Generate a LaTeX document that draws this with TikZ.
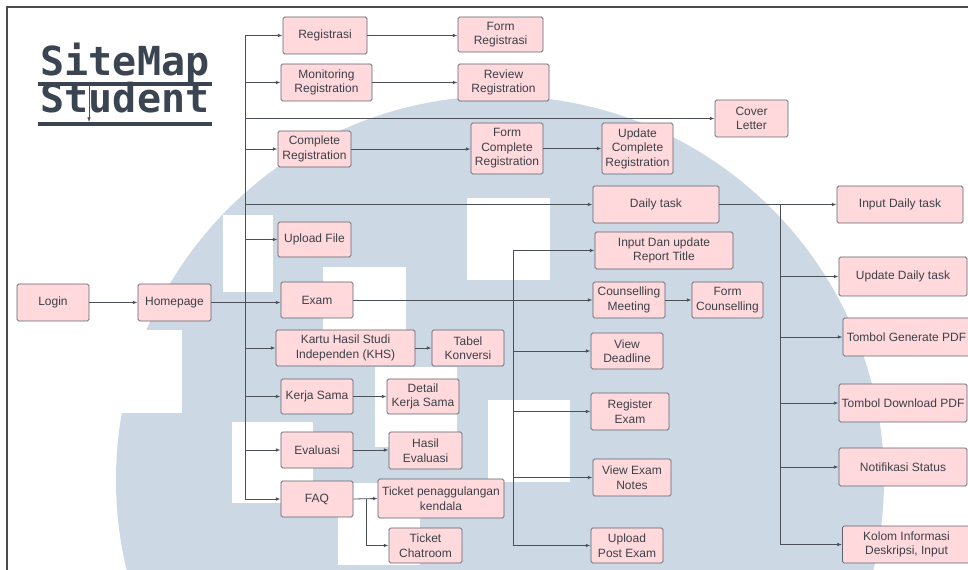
\documentclass[tikz,border=0pt]{standalone}
\usepackage{fontspec}
\setmainfont{Liberation Sans}
\newfontfamily\titelfont{DejaVu Sans Mono}
\usetikzlibrary{arrows.meta}

\definecolor{rosa}{RGB}{255,217,220}
\definecolor{rand}{RGB}{94,99,107}
\definecolor{schrift}{RGB}{60,64,72}
\definecolor{linie}{RGB}{75,80,88}
\definecolor{logo}{RGB}{204,216,227}
\definecolor{titel}{RGB}{59,68,81}

\begin{document}
\begin{tikzpicture}[x=0.75pt,y=-0.75pt,
    kasten/.style 2 args={draw=rand,fill=rosa,rounded corners=1.2pt,line width=0.6pt,
      minimum width=#1*0.75pt,minimum height=#2*0.75pt,inner sep=1pt,align=center,
      text=schrift,font=\fontsize{9}{10.9}\selectfont},
    pfeil/.style={draw=linie,line width=0.6pt,-{Latex[length=3.5pt,width=2.6pt]}},
    ast/.style={draw=linie,line width=0.6pt},
    kopf/.style={font=\titelfont\bfseries\fontsize{30}{30}\selectfont,text=titel,anchor=base,inner sep=0pt}]

  \clip (0,0) rectangle (968,570);

  %Logo im Hintergrund
  \fill[logo] (500,480) circle[radius=288pt];
  \foreach \x/\y/\w/\h in {223/215/50/77,323/267/83/83,375/367/82/80,467/198/83/82,488/400/82/82,232/422/81/81,338/483/82/82,100/330/82/83}
    \fill[white] (\x,\y) rectangle ++(\w,\h);

  %Rahmen
  \draw[gray!60!black,line width=1.5pt] (968,7) -- (7,7) -- (7,570);

  %Titel
  \node[kopf] (sitemap) at (125,76) {SiteMap};
  \node[kopf] (student) at (125,113) {Student};
  \draw[titel,line width=3pt] (38,84) -- (212,84);
  \draw[titel,line width=3pt] (38,124) -- (212,124);
  \coordinate (u1) at (89,86);
  \coordinate (u2) at (89,122);
  \draw[pfeil,line width=0.4pt] (u1) -- (u2);

  %Kaesten
  \node[kasten={72}{37}] (login) at (53,302.5) {Login};
  \node[kasten={73}{37}] (home) at (174.5,302.5) {Homepage};

  \node[kasten={84}{37}] (reg) at (325,35.5) {Registrasi};
  \node[kasten={85}{35}] (formreg) at (500.5,34.5) {Form\\Registrasi};
  \node[kasten={91}{37}] (moni) at (326.5,82.5) {Monitoring\\Registration};
  \node[kasten={91}{37}] (review) at (503.5,82.5) {Review\\Registration};
  \node[kasten={73}{37}] (cover) at (751.5,118.5) {Cover\\Letter};
  \node[kasten={73}{36}] (complete) at (314.5,149) {Complete\\Registration};
  \node[kasten={72}{51}] (formcomp) at (507,148.5) {Form\\Complete\\Registration};
  \node[kasten={71}{51}] (updcomp) at (637.5,148.5) {Update\\Complete\\Registration};

  \node[kasten={126}{37}] (daily) at (656,204.5) {Daily task};
  \node[kasten={126}{37}] (inputdaily) at (900,204.5) {Input Daily task};
  \node[kasten={128}{39}] (upddaily) at (903,276.5) {Update Daily task};
  \node[kasten={127}{38}] (generate) at (906.5,337) {Tombol Generate PDF};
  \node[kasten={128}{38}] (download) at (903,403) {Tombol Download PDF};
  \node[kasten={128}{38}] (notif) at (903,467) {Notifikasi Status};
  \node[kasten={128}{37}] (kolom) at (906.5,544.5) {Kolom Informasi\\Deskripsi, Input};

  \node[kasten={73}{35}] (upload) at (314.5,239.5) {Upload File};
  \node[kasten={72}{36}] (exam) at (317,300) {Exam};
  \node[kasten={138}{37}] (report) at (664,250.5) {Input Dan update\\Report Title};
  \node[kasten={72}{36}] (counsel) at (629,300) {Counselling\\Meeting};
  \node[kasten={71}{36}] (formcounsel) at (727.5,300) {Form\\Counselling};
  \node[kasten={72}{36}] (deadline) at (627,351) {View\\Deadline};
  \node[kasten={78}{37}] (regexam) at (630,411.5) {Register\\Exam};
  \node[kasten={78}{37}] (notes) at (632,477.5) {View Exam\\Notes};
  \node[kasten={72}{35}] (postexam) at (627,545.5) {Upload\\Post Exam};

  \node[kasten={139}{36}] (khs) at (345.5,348) {Kartu Hasil Studi\\Independen (KHS)};
  \node[kasten={72}{36}] (tabel) at (468,348) {Tabel\\Konversi};
  \node[kasten={72}{35}] (kerja) at (317,396.5) {Kerja Sama};
  \node[kasten={72}{35}] (detail) at (423,396.5) {Detail\\Kerja Sama};
  \node[kasten={72}{36}] (eval) at (317,450) {Evaluasi};
  \node[kasten={73}{37}] (hasil) at (425.5,450.5) {Hasil\\Evaluasi};
  \node[kasten={72}{36}] (faq) at (317,499) {FAQ};
  \node[kasten={126}{39}] (ticket) at (441,498.5) {Ticket penaggulangan\\kendala};
  \node[kasten={73}{35}] (chat) at (425.5,545.5) {Ticket\\Chatroom};

  %Verbindungen
  \foreach \a/\b in {login/home,reg/formreg,moni/review,complete/formcomp,formcomp/updcomp,khs/tabel,kerja/detail,eval/hasil,counsel/formcounsel}
    \draw[pfeil] (\a.east) -- (\a.east -| \b.west);

  \coordinate (t1) at (245,302);  %Hauptast
  \draw[ast] (t1 |- reg.west) -- (t1 |- faq.west);
  \draw[pfeil] (home.east) -- (home.east -| exam.west);
  \foreach \k in {reg,moni,cover,complete,daily,upload,khs,kerja,eval,faq}
    \draw[pfeil] (t1 |- \k.west) -- (\k.west);

  \coordinate (t2) at (513,300);  %Exam
  \draw[pfeil] (exam.east) -- (counsel.west);
  \draw[ast] (t2 |- report.west) -- (t2 |- postexam.west);
  \foreach \k in {report,deadline,regexam,notes,postexam}
    \draw[pfeil] (t2 |- \k.west) -- (\k.west);

  \coordinate (t3) at (780,204.5);  %Daily task
  \draw[pfeil] (daily.east) -- (inputdaily.west);
  \draw[ast] (t3) -- (t3 |- kolom.west);
  \foreach \k in {upddaily,generate,download,notif,kolom}
    \draw[pfeil] (t3 |- \k.west) -- (\k.west);

  \coordinate (t4) at (366,499);  %FAQ
  \draw[pfeil] (faq.east) -- (ticket.west);
  \draw[pfeil] (t4) |- (chat.west);

\end{tikzpicture}
\end{document}
